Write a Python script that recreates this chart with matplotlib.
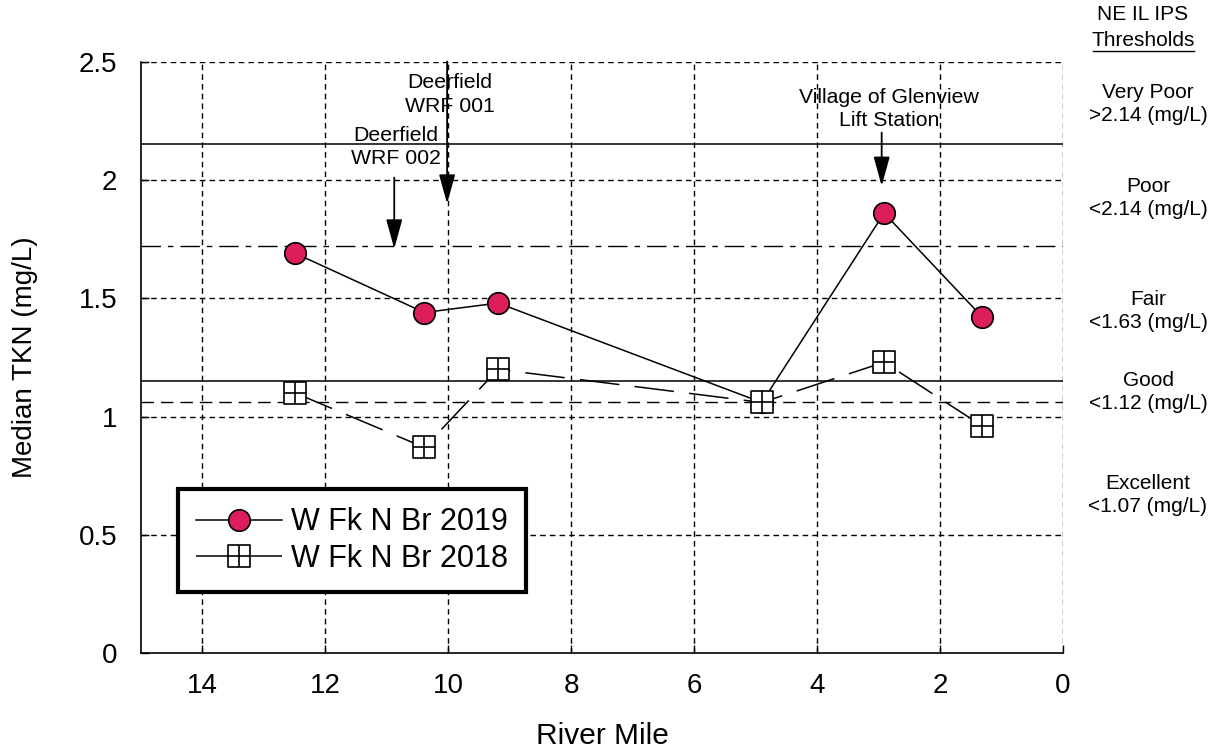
import matplotlib
matplotlib.use('Agg')
from matplotlib import pyplot as plt
from matplotlib.path import Path
from matplotlib.lines import Line2D

plt.rcParams['font.family'] = ['Liberation Sans', 'DejaVu Sans']

# river mile stations and median TKN values
miles = [12.49, 10.39, 9.19, 4.90, 2.91, 1.31]
tkn_2019 = [1.69, 1.44, 1.48, 1.06, 1.86, 1.42]
tkn_2018 = [1.10, 0.87, 1.20, 1.06, 1.23, 0.96]

# threshold reference lines
thresholds = [2.15, 1.72, 1.15, 1.06]

x_ticks = [14, 12, 10, 8, 6, 4, 2, 0]
y_ticks = [0, 0.5, 1, 1.5, 2, 2.5]

# outfall labels: text, arrow mile, text mile, text height, arrow start, arrow tip
outfalls = [
    ('Deerfield\nWRF 001', 10.02, 9.97, 2.36, 2.5, 1.90),
    ('Deerfield\nWRF 002', 10.88, 10.86, 2.14, 2.01, 1.71),
    ('Village of Glenview\nLift Station', 2.95, 2.83, 2.30, 2.20, 1.975),
]

# category labels on the right side
classes = ['Very Poor\n>2.14 (mg/L)', 'Poor\n<2.14 (mg/L)', 'Fair\n<1.63 (mg/L)',
           'Good\n<1.12 (mg/L)', 'Excellent\n<1.07 (mg/L)']
class_y = [104, 198, 311, 392, 495]

# square marker with a cross through it
box_verts = [(-1, -1), (1, -1), (1, 1), (-1, 1), (-1, -1),
             (0, -1), (0, 1), (-1, 0), (1, 0)]
box_codes = [Path.MOVETO, Path.LINETO, Path.LINETO, Path.LINETO, Path.CLOSEPOLY,
             Path.MOVETO, Path.LINETO, Path.MOVETO, Path.LINETO]
box_marker = Path(box_verts, box_codes)

fig = plt.figure(figsize=(12.15, 7.54), dpi=100)
ax = fig.add_axes([141 / 1215, 1 - 653.4 / 754, 922 / 1215, 591.8 / 754])

ax.set_xlim(15, 0)
ax.set_ylim(0, 2.5)
ax.set_xticks(x_ticks)
ax.set_yticks(y_ticks)
ax.set_yticklabels(['0', '0.5', '1', '1.5', '2', '2.5'])
ax.tick_params(direction='in', length=6, width=1, labelsize=20)
ax.tick_params(axis='x', pad=14)
ax.tick_params(axis='y', pad=17)

for side in ['top', 'right']:
    ax.spines[side].set_visible(False)
for side in ['left', 'bottom']:
    ax.spines[side].set_linewidth(1.2)

# dashed grid
for xv in x_ticks:
    ax.axvline(xv, color='black', lw=1, linestyle=(0, (4, 3)), zorder=1)
for yv in y_ticks[1:]:
    ax.axhline(yv, color='black', lw=1, linestyle=(0, (4, 3)), zorder=1)

# thresholds
ax.axhline(thresholds[0], color='black', lw=1.1, zorder=1)
ax.axhline(thresholds[1], color='black', lw=1, linestyle=(0, (14, 5, 4, 5)), zorder=1)
ax.axhline(thresholds[2], color='black', lw=1.1, zorder=1)
ax.axhline(thresholds[3], color='black', lw=1, linestyle=(0, (9, 5)), zorder=1)

ax.plot(miles, tkn_2019, color='black', lw=1.1, marker='o', markersize=15.5,
        markerfacecolor='#dc1f5a', markeredgecolor='black', markeredgewidth=1.2,
        label='W Fk N Br 2019', zorder=3)
ax.plot(miles, tkn_2018, color='black', lw=1.1, linestyle=(0, (26, 10)),
        marker=box_marker, markersize=15.5, markerfacecolor='white',
        markeredgecolor='black', markeredgewidth=1.2,
        label='W Fk N Br 2018', zorder=4)

for text, ax_x, tx_x, tx_y, y0, y1 in outfalls:
    ax.annotate('', xy=(ax_x, y1), xytext=(ax_x, y0),
                arrowprops=dict(arrowstyle='-|>,head_length=0.9,head_width=0.25',
                                color='black', lw=1.3, mutation_scale=20,
                                shrinkA=0, shrinkB=0), zorder=5)
    ax.text(tx_x, tx_y, text, ha='center', va='center', fontsize=15.3,
            linespacing=1.3, zorder=6)

ax.set_xlabel('River Mile', fontsize=21.5)
ax.set_ylabel('Median TKN (mg/L)', fontsize=20)
ax.xaxis.set_label_coords(0.5, (653.4 - 736) / 591.8)
ax.xaxis.label.set_va('center')
ax.yaxis.set_label_coords((25 - 141) / 922, 0.5)
ax.yaxis.label.set_va('center')

leg = ax.legend(loc='lower left', bbox_to_anchor=(0.040, 0.104), borderaxespad=0,
                fontsize=22, fancybox=False, handlelength=2.8, handletextpad=0.3,
                borderpad=0.6, labelspacing=0.2, framealpha=1)
leg.get_frame().set_edgecolor('black')
leg.get_frame().set_linewidth(3)
leg.set_zorder(7)

# threshold key on the right
fig.text(1143 / 1215, 1 - 15 / 754, 'NE IL IPS', ha='center', va='center', fontsize=15)
fig.text(1143 / 1215, 1 - 41 / 754, 'Thresholds', ha='center', va='center', fontsize=15)
fig.add_artist(Line2D([1093 / 1215, 1194 / 1215], [1 - 51 / 754] * 2,
                      transform=fig.transFigure, color='black', lw=1))
for label, yp in zip(classes, class_y):
    fig.text(1148 / 1215, 1 - yp / 754, label, ha='center', va='center',
             fontsize=15, linespacing=1.25)

fig.savefig('out.png', dpi=100)
